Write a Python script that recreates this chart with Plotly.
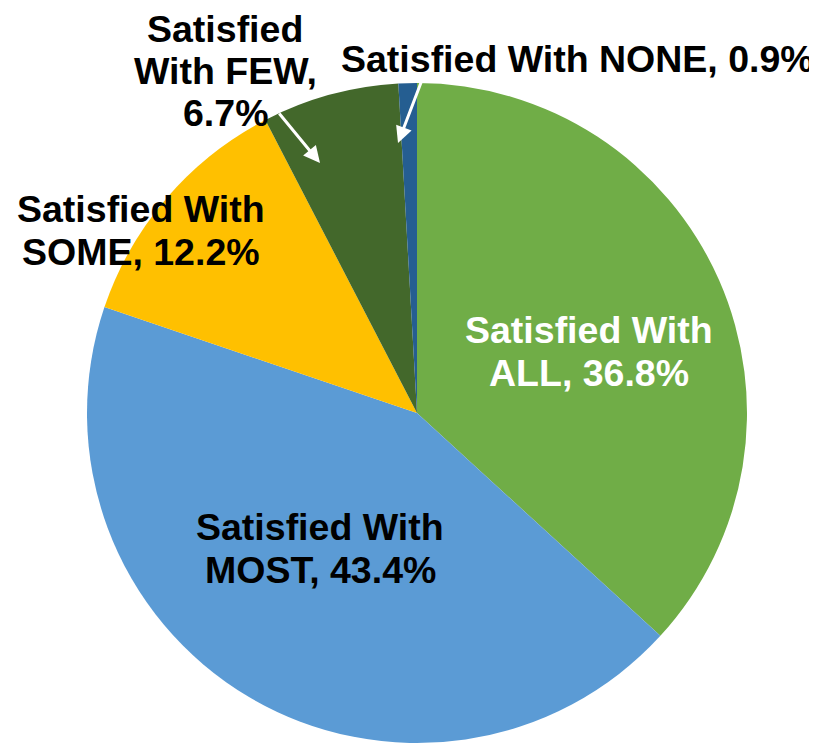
import plotly.graph_objects as go

W, H = 817, 748
OFF = 8  # page body margin offset in the browser

categories = ["Satisfied With ALL", "Satisfied With MOST", "Satisfied With SOME",
              "Satisfied With FEW", "Satisfied With NONE"]
values = [36.8, 43.4, 12.2, 6.7, 0.9]
colors = ["#70AD47", "#5B9BD5", "#FFC000", "#43682B", "#255E91"]

# label lines per slice
label_lines = {
    "Satisfied With ALL": ["Satisfied With", "ALL, 36.8%"],
    "Satisfied With MOST": ["Satisfied With", "MOST, 43.4%"],
    "Satisfied With SOME": ["Satisfied With", "SOME, 12.2%"],
    "Satisfied With FEW": ["Satisfied", "With FEW,", "6.7%"],
    "Satisfied With NONE": ["Satisfied With NONE, 0.9%"],
}
label_colors = {
    "Satisfied With ALL": "white",
    "Satisfied With MOST": "black",
    "Satisfied With SOME": "black",
    "Satisfied With FEW": "black",
    "Satisfied With NONE": "black",
}
# label block positions (page pixel center x, first-line cap-center y)
label_pos = {
    "Satisfied With ALL": (589, 331),
    "Satisfied With MOST": (320, 528),
    "Satisfied With SOME": (141, 210),
    "Satisfied With FEW": (225, 30),
    "Satisfied With NONE": (577, 60),
}
LINE_GAP = 43
FONT_SIZE = 37.5


def px(x):
    return (x - OFF) / W


def py(y):
    return 1 - (y - OFF) / H


cx, cy, r = 417, 413, 330

fig = go.Figure(go.Pie(
    labels=categories,
    values=values,
    sort=False,
    direction="clockwise",
    rotation=0,
    marker=dict(colors=colors, line=dict(width=0)),
    textinfo="none",
    hoverinfo="label+percent",
    domain=dict(x=[px(cx - r), px(cx + r)], y=[py(cy + r), py(cy - r)]),
    showlegend=False,
))

font_family = "Liberation Sans, Arial, sans-serif"
annotations = []
for cat in categories:
    x0, y0 = label_pos[cat]
    gap = 42 if cat == "Satisfied With FEW" else LINE_GAP
    for i, line in enumerate(label_lines[cat]):
        annotations.append(dict(
            x=px(x0), y=py(y0 + i * gap - 1), xref="paper", yref="paper",
            text="<b>" + line + "</b>", showarrow=False, xanchor="center", yanchor="middle",
            font=dict(family=font_family, size=FONT_SIZE, color=label_colors[cat]),
        ))

# leader arrows (tip, tail) in page pixels
arrows = [((320, 163), (278, 112)), ((398, 143), (422, 80))]
for (tx, ty), (sx, sy) in arrows:
    annotations.append(dict(
        x=px(tx), y=py(ty), xref="paper", yref="paper", text="",
        showarrow=True, ax=sx - tx, ay=sy - ty, arrowcolor="white",
        arrowwidth=3, arrowhead=2, arrowsize=1.1,
    ))

fig.update_layout(
    width=W, height=H,
    margin=dict(l=0, r=0, t=0, b=0),
    paper_bgcolor="white", plot_bgcolor="white",
    annotations=annotations,
)

fig.write_html("out.html")
